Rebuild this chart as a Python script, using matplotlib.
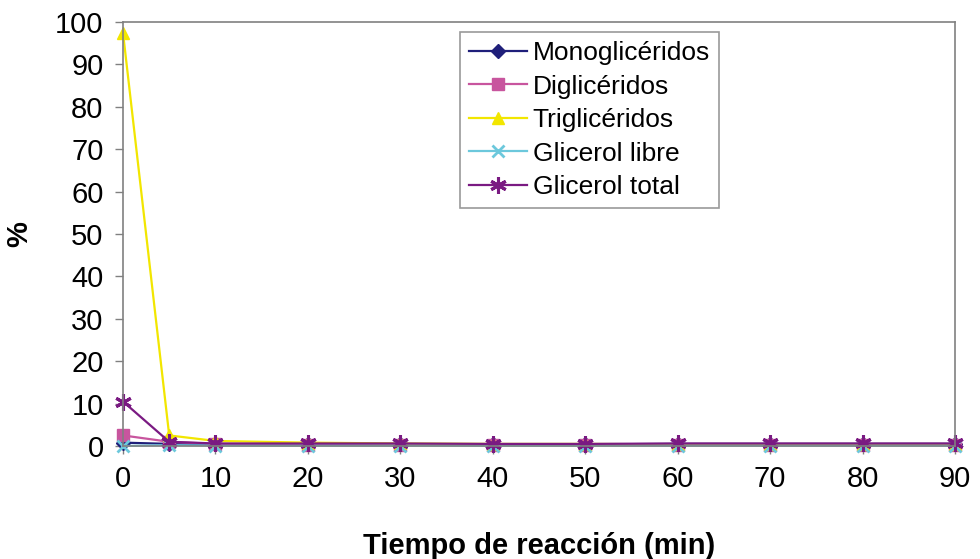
import matplotlib
matplotlib.use('Agg')
import matplotlib.pyplot as plt

plt.rcParams['font.family'] = ['Liberation Sans', 'DejaVu Sans']

# Composición vs tiempo de reacción
tiempo = [0, 5, 10, 20, 30, 40, 50, 60, 70, 80, 90]
mono = [0.8, 0.5, 0.4, 0.4, 0.4, 0.4, 0.4, 0.5, 0.5, 0.5, 0.5]
di = [2.5, 1.0, 0.5, 0.3, 0.3, 0.3, 0.3, 0.3, 0.3, 0.3, 0.3]
tri = [97.5, 2.5, 1.2, 0.8, 0.6, 0.5, 0.5, 0.4, 0.4, 0.4, 0.4]
glic_libre = [0.0, 0.2, 0.1, 0.1, 0.1, 0.1, 0.1, 0.1, 0.1, 0.1, 0.1]
glic_total = [10.5, 1.0, 0.6, 0.6, 0.6, 0.5, 0.5, 0.6, 0.6, 0.6, 0.6]

fig = plt.figure(figsize=(9.8, 5.59), dpi=100)
ax = fig.add_axes([0.1255, 0.2021, 0.849, 0.7585])

ax.plot(tiempo, mono, '-D', color='#1f1f7a', lw=1.6, ms=7, label='Monoglicéridos', clip_on=False)
ax.plot(tiempo, di, '-s', color='#c8559e', lw=1.6, ms=8, label='Diglicéridos', clip_on=False)
ax.plot(tiempo, tri, '-^', color='#f2e600', lw=1.6, ms=9, label='Triglicéridos', clip_on=False)
ax.plot(tiempo, glic_libre, '-x', color='#6cc8dc', lw=1.6, ms=9, mew=2, label='Glicerol libre',
        clip_on=False)
ax.plot(tiempo, glic_total, '-', marker=(6, 2, 0), color='#7a1a82', lw=1.6, ms=12, mew=2.2,
        label='Glicerol total', clip_on=False)

ax.set_xlim(0, 90)
ax.set_ylim(0, 100)
ax.set_xticks([0, 10, 20, 30, 40, 50, 60, 70, 80, 90])
ax.set_yticks(range(0, 101, 10))
ax.tick_params(labelsize=21, length=6, width=1, color='#808080', pad=8)

for s in ax.spines.values():
    s.set_color('#808080')
    s.set_linewidth(1.2)

ax.set_xlabel('Tiempo de reacción (min)', fontsize=21, fontweight='bold', labelpad=28)
ax.set_ylabel('%', fontsize=21, fontweight='bold', labelpad=16)

leg = ax.legend(loc='upper left', bbox_to_anchor=(0.405, 0.977), fontsize=19,
                frameon=True, fancybox=False, edgecolor='#808080',
                handlelength=2.2, borderpad=0.35, labelspacing=0.36, handletextpad=0.2,
                borderaxespad=0)
leg.get_frame().set_linewidth(1.2)

fig.savefig('out.png', dpi=100)
